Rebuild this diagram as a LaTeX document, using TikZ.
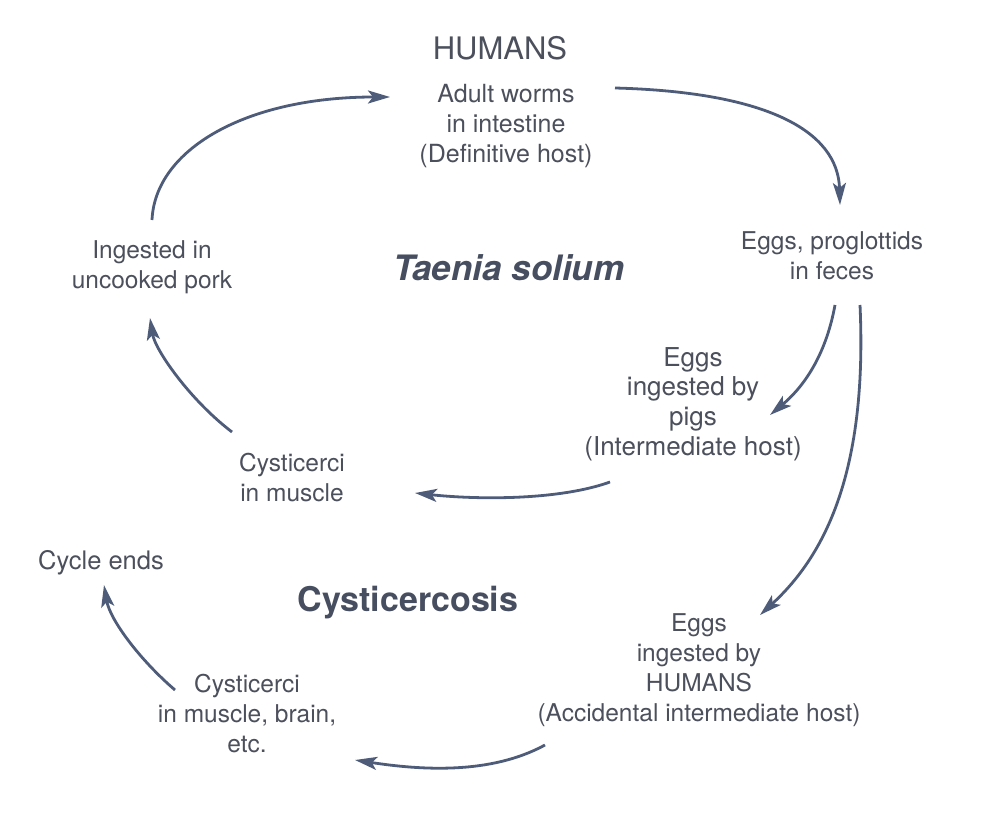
\documentclass[tikz,border=0pt]{standalone}
\usepackage{fontspec}
\setmainfont{TeX Gyre Heros}
\usetikzlibrary{arrows.meta}
\definecolor{txt}{HTML}{4C505C}
\definecolor{head}{HTML}{474E60}
\definecolor{arc}{HTML}{4E5C7A}
\begin{document}
\begin{tikzpicture}[x=1pt,y=-1pt,
  lbl/.style={text=txt, align=center, font=\fontsize{24.5}{30}\selectfont, inner sep=0pt},
  arr/.style={draw=arc, line width=2.8pt, -{Stealth[length=22pt,width=13pt,inset=5pt]}}]
\useasboundingbox[fill=white] (0,0) rectangle (1000,813);

\node[lbl, font=\fontsize{31}{36}\selectfont] (title) at (500,48) {HUMANS};
\node[lbl, font=\fontsize{25}{30}\selectfont] (adult) at (506,126) {Adult worms\\in intestine\\(Definitive host)};
\node[lbl] (feces) at (832,256) {Eggs, proglottids\\in feces};
\node[lbl, text=head, font=\fontsize{35}{40}\selectfont\bfseries\itshape] (taenia) at (509,268) {Taenia solium};
\node[lbl] (pork) at (152,267) {Ingested in\\uncooked pork};
\node[lbl, font=\fontsize{26}{29.7}\selectfont] (pigs) at (693,404) {Eggs\\ingested by\\pigs\\(Intermediate host)};
\node[lbl] (muscle) at (292,478) {Cysticerci\\in muscle};
\node[lbl, font=\fontsize{25.5}{30}\selectfont] (ends) at (101,563) {Cycle ends};
\node[lbl, text=head, font=\fontsize{34}{40}\selectfont\bfseries] (cysto) at (408,603) {Cysticercosis};
\node[lbl] (brain) at (247,714) {Cysticerci\\in muscle, brain,\\etc.};
\node[lbl] (acc) at (699,670) {Eggs\\ingested by\\HUMANS\\(Accidental intermediate host)};

\draw[arr] ([shift={(0,-47)}]pork.center) .. controls (155,150) and (245,97) .. ([shift={(-116,-29)}]adult.center);
\draw[arr] ([shift={(109,-38)}]adult.center) .. controls (765,92) and (838,130) .. ([shift={(8,-51)}]feces.center);
\draw[arr] ([shift={(3,49)}]feces.center) .. controls (825,360) and (800,390) .. ([shift={(77,11)}]pigs.center);
\draw[arr] ([shift={(28,49)}]feces.center) .. controls (868,480) and (820,560) .. ([shift={(61,-55)}]acc.center);
\draw[arr] ([shift={(-83,78)}]pigs.center) .. controls (560,500) and (480,500) .. ([shift={(123,15)}]muscle.center);
\draw[arr] ([shift={(-60,-46)}]muscle.center) .. controls (190,400) and (155,350) .. ([shift={(-2,51)}]pork.center);
\draw[arr] ([shift={(-154,75)}]acc.center) .. controls (490,775) and (420,770) .. ([shift={(108,46)}]brain.center);
\draw[arr] ([shift={(-72,-24)}]brain.center) .. controls (140,660) and (110,620) .. ([shift={(3,22)}]ends.center);
\end{tikzpicture}
\end{document}
